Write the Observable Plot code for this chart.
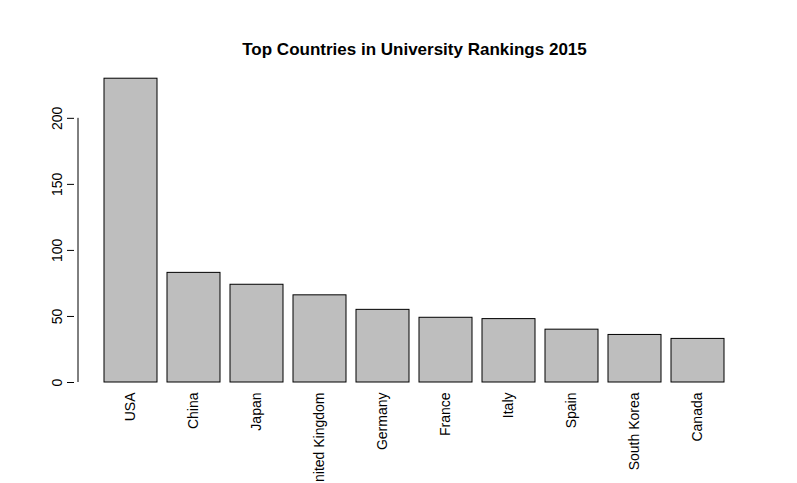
<!DOCTYPE html>
<html>
<head>
<meta charset="utf-8">
<script src="https://cdn.jsdelivr.net/npm/d3@7"></script>
<script src="https://cdn.jsdelivr.net/npm/@observablehq/plot@0.6"></script>
<style>
  body { margin: 0; background: #fff; overflow: hidden; }
  svg { font-family: "Liberation Sans", Arial, sans-serif; }
</style>
</head>
<body>
<div id="chart"></div>
<script>
const countries = ["USA", "China", "Japan", "United Kingdom", "Germany", "France", "Italy", "Spain", "South Korea", "Canada"];
const counts = [230, 83, 74, 66, 55, 49, 48, 40, 36, 33];
const yTicks = [0, 50, 100, 150, 200];

const data = countries.map((c, i) => ({country: c, n: counts[i]}));

const plot = Plot.plot({
  width: 797,
  height: 483,
  marginLeft: 89,
  marginRight: 58,
  marginTop: 65,
  marginBottom: 101,
  style: {fontSize: "14px", fontFamily: "Liberation Sans, Arial, sans-serif", background: "white", overflow: "hidden"},
  x: {domain: countries, padding: 0.166, label: null},
  y: {domain: [0, 240], label: null},
  marks: [
    Plot.barY(data, {x: "country", y: "n", fill: "#bebebe", stroke: "black", strokeWidth: 1}),
    Plot.axisX({tickSize: 0, tickRotate: -90, tickPadding: 10, fontSize: 14, fill: "black", label: null}),
    Plot.axisY({ticks: yTicks, tickSize: 7, tickRotate: -90, tickPadding: 6, dx: -15, fontSize: 14, fill: "black", label: null}),
    Plot.ruleX(["USA"], {y1: 0, y2: 200, dx: -53, stroke: "black"}),
    Plot.text(["Top Countries in University Rankings 2015"], {frameAnchor: "top", dy: -23, fontSize: 17, fontWeight: "bold", fill: "black"})
  ]
});

document.querySelector("#chart").appendChild(plot);
</script>
</body>
</html>
